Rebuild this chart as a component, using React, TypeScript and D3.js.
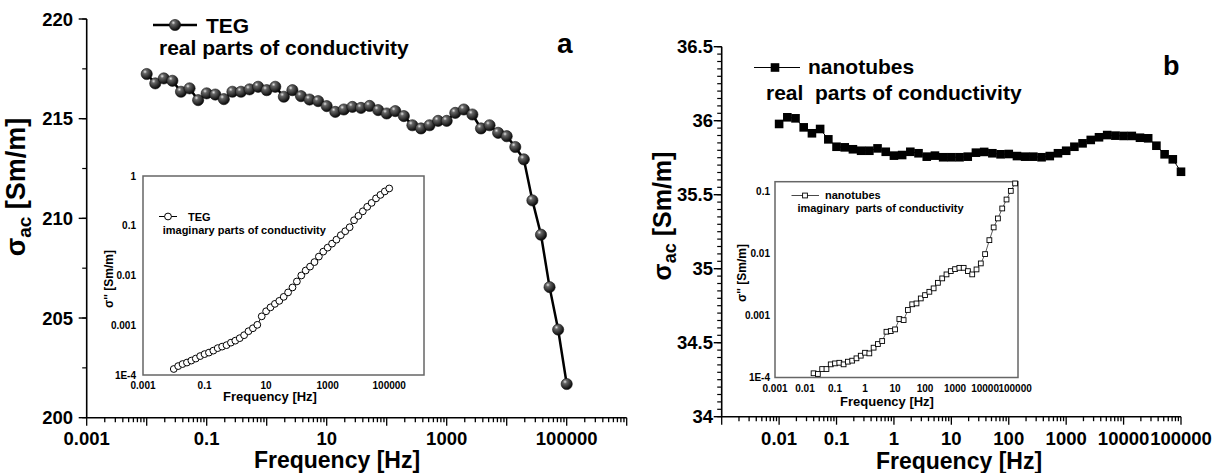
import React from "react";
import * as d3 from "d3";

// frequencies (Hz), 7 points per decade
const freqHz = [
  0.01, 0.0139, 0.0193, 0.0268, 0.0373, 0.0518, 0.072,
  0.1, 0.139, 0.193, 0.268, 0.373, 0.518, 0.72,
  1, 1.39, 1.93, 2.68, 3.73, 5.18, 7.2,
  10, 13.9, 19.3, 26.8, 37.3, 51.8, 72,
  100, 139, 193, 268, 373, 518, 720,
  1000, 1390, 1930, 2680, 3730, 5180, 7200,
  10000, 13900, 19300, 26800, 37300, 51800, 72000,
  100000,
];

// panel a: TEG, real part [Sm/m]
const tegReal = [
  217.24, 216.77, 217.02, 216.9, 216.35, 216.52, 215.93,
  216.27, 216.21, 215.98, 216.35, 216.35, 216.47, 216.6,
  216.43, 216.6, 216.1, 216.43, 216.13, 215.96, 215.88,
  215.63, 215.34, 215.46, 215.59, 215.54, 215.64, 215.43,
  215.26, 215.38, 215.13, 214.67, 214.51, 214.67, 214.89,
  214.89, 215.29, 215.46, 215.21, 214.51, 214.67, 214.29,
  214.12, 213.58, 212.96, 210.9, 209.18, 206.55, 204.42,
  201.69,
];

// panel a inset: TEG, imaginary part [Sm/m]
const tegImag = [
  1.32e-4, 1.51e-4, 1.66e-4, 1.78e-4, 1.95e-4, 2.14e-4, 2.4e-4,
  2.63e-4, 2.82e-4, 3.09e-4, 3.47e-4, 3.72e-4, 3.98e-4, 4.47e-4,
  4.9e-4, 5.5e-4, 6.31e-4, 7.59e-4, 8.71e-4, 1.02e-3, 1.51e-3,
  1.91e-3, 2.29e-3, 2.69e-3, 3.09e-3, 3.72e-3, 4.57e-3, 5.75e-3,
  7.59e-3, 0.01, 0.0126, 0.0151, 0.0186, 0.024, 0.0302,
  0.0363, 0.0437, 0.0525, 0.0646, 0.0776, 0.0933, 0.129,
  0.158, 0.195, 0.24, 0.288, 0.355, 0.417, 0.49,
  0.562,
];

// panel b: nanotubes, real part [Sm/m]
const ntReal = [
  35.978, 36.023, 36.016, 35.955, 35.915, 35.944, 35.874,
  35.824, 35.82, 35.807, 35.797, 35.797, 35.813, 35.79,
  35.764, 35.768, 35.79, 35.78, 35.757, 35.764, 35.753,
  35.753, 35.753, 35.757, 35.784, 35.789, 35.78, 35.773,
  35.775, 35.761, 35.757, 35.757, 35.753, 35.761, 35.78,
  35.797, 35.824, 35.847, 35.87, 35.888, 35.903, 35.899,
  35.897, 35.897, 35.885, 35.881, 35.831, 35.773, 35.739,
  35.655,
];

// panel b inset: nanotubes, imaginary part [Sm/m], from freqHz[2] on
const ntImagFreq = freqHz.slice(2);
const ntImag = [
  1.17e-4, 1.14e-4, 1.37e-4, 1.37e-4, 1.63e-4, 1.69e-4, 1.73e-4,
  1.63e-4, 1.8e-4, 1.87e-4, 2.04e-4, 2.25e-4, 2.51e-4, 2.45e-4,
  3.03e-4, 3.47e-4, 3.88e-4, 5.48e-4, 5.62e-4, 5.98e-4, 8.79e-4,
  8.45e-4, 1.23e-3, 1.52e-3, 1.57e-3, 1.89e-3, 2.14e-3, 2.42e-3,
  2.75e-3, 3.38e-3, 3.98e-3, 4.62e-3, 5.22e-3, 5.62e-3, 5.9e-3,
  5.9e-3, 5.22e-3, 4.62e-3, 5.56e-3, 6.95e-3, 9.82e-3, 0.0165,
  0.0265, 0.037, 0.0536, 0.0748, 0.103, 0.136,
];

// tick labels
const aYTicks = [200, 205, 210, 215, 220];
const aXTicks = [0.001, 0.1, 10, 1000, 100000];
const aXTickText = ["0.001", "0.1", "10", "1000", "100000"];
const bYTicks = [34, 34.5, 35, 35.5, 36, 36.5];
const bYTickText = ["34", "34.5", "35", "35.5", "36", "36.5"];
const bXTicks = [0.01, 0.1, 1, 10, 100, 1000, 10000, 100000];
const bXTickText = ["0.01", "0.1", "1", "10", "100", "1000", "10000", "100000"];
const iaXTicks = [0.001, 0.1, 10, 1000, 100000];
const iaXTickText = ["0.001", "0.1", "10", "1000", "100000"];
const iaYTicks = [1e-4, 0.001, 0.01, 0.1, 1];
const iaYTickText = ["1E-4", "0.001", "0.01", "0.1", "1"];
const ibXTicks = [0.001, 0.01, 0.1, 1, 10, 100, 1000, 10000, 100000];
const ibXTickText = ["0.001", "0.01", "0.1", "1", "10", "100", "1000", "10000", "100000"];
const ibYTicks = [1e-4, 0.001, 0.01, 0.1];
const ibYTickText = ["1E-4", "0.001", "0.01", "0.1"];

const FONT = "'Liberation Sans', Arial, Helvetica, sans-serif";

const isDecade = (t: number) => Math.abs(Math.log10(t) - Math.round(Math.log10(t))) < 1e-6;

function LogXAxis({ x, y }: { x: any; y: number }) {
  // default count keeps d3 on the 1..9 per decade log ticks
  const ticks: number[] = x.ticks();
  return (
    <g>
      <line x1={x.range()[0]} x2={x.range()[1]} y1={y} y2={y} stroke="#000" strokeWidth={1.6} />
      {ticks.map((t, i) => (
        <line key={i} x1={x(t)} x2={x(t)} y1={y} y2={y + (isDecade(t) ? 8 : 4.5)} stroke="#000" strokeWidth={1.3} />
      ))}
    </g>
  );
}

function LinYAxis({ y, x, majors, minors }: { y: any; x: number; majors: number[]; minors: number[] }) {
  return (
    <g>
      <line x1={x} x2={x} y1={y.range()[0]} y2={y.range()[1]} stroke="#000" strokeWidth={1.6} />
      {minors.map((t, i) => (
        <line key={"m" + i} x1={x - 4.5} x2={x} y1={y(t)} y2={y(t)} stroke="#000" strokeWidth={1.2} />
      ))}
      {majors.map((t, i) => (
        <line key={"M" + i} x1={x - 8} x2={x} y1={y(t)} y2={y(t)} stroke="#000" strokeWidth={1.4} />
      ))}
    </g>
  );
}

export default function App() {
  // panel a
  const ax = d3.scaleLog().domain([1e-3, 1e6]).range([86.7, 626.7]);
  const ay = d3.scaleLinear().domain([200, 220]).range([417.7, 19]);
  const aLine = d3.line<number>().x((_, i) => ax(freqHz[i])).y((d) => ay(d));

  // panel a inset
  const iax = d3.scaleLog().domain([1e-3, 1.35e6]).range([143, 424]);
  const iay = d3.scaleLog().domain([1e-4, 1]).range([375, 176]);
  const iaLine = d3.line<number>().x((_, i) => iax(freqHz[i])).y((d) => iay(d));

  // panel b
  const bx = d3.scaleLog().domain([1e-3, 1e5]).range([721.7, 1181]);
  const by = d3.scaleLinear().domain([34, 36.5]).range([416.7, 46.7]);
  const bLine = d3.line<number>().x((_, i) => bx(freqHz[i])).y((d) => by(d));

  // panel b inset
  const ibx = d3.scaleLog().domain([1e-3, 1.25e5]).range([775, 1018]);
  const iby = d3.scaleLog().domain([1e-4, 0.145]).range([377.5, 181.7]);
  const ibLine = d3.line<number>().x((_, i) => ibx(ntImagFreq[i])).y((d) => iby(d));

  const aMinor = d3.range(200, 220.001, 2.5);
  const bMinor = d3.range(0, 51).map((k) => 34 + k * 0.05);

  const bold = { fontFamily: FONT, fontWeight: 700 } as const;

  return (
    <svg width={1213} height={473} style={{ position: "absolute", left: 0, top: 0, background: "#fff" }}>
      <defs>
        <radialGradient id="sphere" cx="35%" cy="30%" r="70%">
          <stop offset="0%" stopColor="#e6e6e6" />
          <stop offset="25%" stopColor="#666" />
          <stop offset="100%" stopColor="#080808" />
        </radialGradient>
      </defs>
      <rect width={1213} height={473} fill="#fff" />

      {/* ---------- panel a ---------- */}
      <LinYAxis y={ay} x={86.7} majors={aYTicks} minors={aMinor} />
      <LogXAxis x={ax} y={417.7} />
      {aYTicks.map((t) => (
        <text key={t} x={73} y={ay(t)} dy="0.36em" textAnchor="end" fontSize={18.5} {...bold}>{t}</text>
      ))}
      {aXTicks.map((t, i) => (
        <text key={t} x={ax(t)} y={444.5} textAnchor="middle" fontSize={18.5} {...bold}>{aXTickText[i]}</text>
      ))}
      <text x={337} y={468} textAnchor="middle" fontSize={23} {...bold}>Frequency [Hz]</text>
      <text transform="translate(25,187) rotate(-90)" textAnchor="middle" fontSize={27} {...bold}>
        <tspan>σ</tspan>
        <tspan fontSize={19} dy={6}>ac</tspan>
        <tspan dy={-6}> [Sm/m]</tspan>
      </text>

      <path d={aLine(tegReal) || ""} fill="none" stroke="#000" strokeWidth={2.5} />
      {tegReal.map((d, i) => (
        <circle key={i} cx={ax(freqHz[i])} cy={ay(d)} r={5.6} fill="url(#sphere)" stroke="#111" strokeWidth={0.6} />
      ))}

      {/* legend a */}
      <line x1={153} x2={197} y1={25} y2={25} stroke="#000" strokeWidth={2.5} />
      <circle cx={175} cy={25} r={5.6} fill="url(#sphere)" stroke="#111" strokeWidth={0.6} />
      <text x={206} y={33} fontSize={21} {...bold}>TEG</text>
      <text x={159} y={54.5} fontSize={21} {...bold}>real parts of conductivity</text>
      <text x={557} y={53} fontSize={28} {...bold}>a</text>

      {/* inset a */}
      <rect x={143} y={176} width={281} height={199} fill="#fff" stroke="#666" strokeWidth={1.5} />
      {iaYTicks.map((t, i) => (
        <text key={t} x={136} y={iay(t)} dy="0.35em" textAnchor="end" fontSize={10} {...bold}>{iaYTickText[i]}</text>
      ))}
      {iaXTicks.map((t, i) => (
        <text key={t} x={iax(t)} y={389} textAnchor="middle" fontSize={10} {...bold}>{iaXTickText[i]}</text>
      ))}
      <text x={270} y={401} textAnchor="middle" fontSize={13} {...bold}>Frequency [Hz]</text>
      <text transform="translate(113,279) rotate(-90)" textAnchor="middle" fontSize={12} {...bold}>σ'' [Sm/m]</text>
      <path d={iaLine(tegImag) || ""} fill="none" stroke="#000" strokeWidth={1} />
      {tegImag.map((d, i) => (
        <circle key={i} cx={iax(freqHz[i])} cy={iay(d)} r={3.4} fill="#fff" stroke="#000" strokeWidth={1} />
      ))}
      <line x1={159} x2={177} y1={216.5} y2={216.5} stroke="#000" strokeWidth={1} />
      <circle cx={168} cy={216.5} r={3.4} fill="#fff" stroke="#000" strokeWidth={1} />
      <text x={188} y={220.5} fontSize={11} {...bold}>TEG</text>
      <text x={162.7} y={233.5} fontSize={11} {...bold}>imaginary parts of conductivity</text>

      {/* ---------- panel b ---------- */}
      <LinYAxis y={by} x={721.7} majors={bYTicks} minors={bMinor} />
      <LogXAxis x={bx} y={416.7} />
      {bYTicks.map((t, i) => (
        <text key={t} x={713} y={by(t)} dy="0.36em" textAnchor="end" fontSize={18.5} {...bold}>{bYTickText[i]}</text>
      ))}
      {bXTicks.map((t, i) => (
        <text key={t} x={bx(t)} y={444.5} textAnchor="middle" fontSize={18.5} {...bold}>{bXTickText[i]}</text>
      ))}
      <text x={959} y={469} textAnchor="middle" fontSize={23} {...bold}>Frequency [Hz]</text>
      <text transform="translate(671,216) rotate(-90)" textAnchor="middle" fontSize={25} {...bold}>
        <tspan>σ</tspan>
        <tspan fontSize={18} dy={5}>ac</tspan>
        <tspan dy={-5}> [Sm/m]</tspan>
      </text>

      <path d={bLine(ntReal) || ""} fill="none" stroke="#000" strokeWidth={1} />
      {ntReal.map((d, i) => (
        <rect key={i} x={bx(freqHz[i]) - 4.3} y={by(d) - 4.3} width={8.6} height={8.6} fill="#000" />
      ))}

      {/* legend b */}
      <line x1={754} x2={800} y1={67.5} y2={67.5} stroke="#000" strokeWidth={1.2} />
      <rect x={775 - 4.3} y={67.5 - 4.3} width={8.6} height={8.6} fill="#000" />
      <text x={808} y={74} fontSize={21} {...bold}>nanotubes</text>
      <text x={766} y={100} fontSize={21} {...bold} style={{ whiteSpace: "pre" }}>real  parts of conductivity</text>
      <text x={1163} y={75} fontSize={27} {...bold}>b</text>

      {/* inset b */}
      <rect x={775} y={181.7} width={243} height={195.8} fill="#fff" stroke="#666" strokeWidth={1.5} />
      {ibYTicks.map((t, i) => (
        <text key={t} x={770} y={iby(t)} dy="0.35em" textAnchor="end" fontSize={10} {...bold}>{ibYTickText[i]}</text>
      ))}
      {ibXTicks.map((t, i) => (
        <text key={t} x={ibx(t)} y={391.5} textAnchor="middle" fontSize={10} {...bold}>{ibXTickText[i]}</text>
      ))}
      <text x={887} y={406} textAnchor="middle" fontSize={13} {...bold}>Frequency [Hz]</text>
      <text transform="translate(746,273) rotate(-90)" textAnchor="middle" fontSize={12} {...bold}>σ'' [Sm/m]</text>
      <path d={ibLine(ntImag) || ""} fill="none" stroke="#333" strokeWidth={0.8} />
      {ntImag.map((d, i) => (
        <rect key={i} x={ibx(ntImagFreq[i]) - 2.4} y={iby(d) - 2.4} width={4.8} height={4.8} fill="#fff" stroke="#000" strokeWidth={0.9} />
      ))}
      <line x1={791.5} x2={819} y1={195.5} y2={195.5} stroke="#333" strokeWidth={0.9} />
      <rect x={805 - 2.4} y={195.5 - 2.4} width={4.8} height={4.8} fill="#fff" stroke="#000" strokeWidth={0.9} />
      <text x={825} y={199} fontSize={11} {...bold}>nanotubes</text>
      <text x={797.4} y={212} fontSize={11} {...bold} style={{ whiteSpace: "pre" }}>imaginary  parts of conductivity</text>
    </svg>
  );
}
